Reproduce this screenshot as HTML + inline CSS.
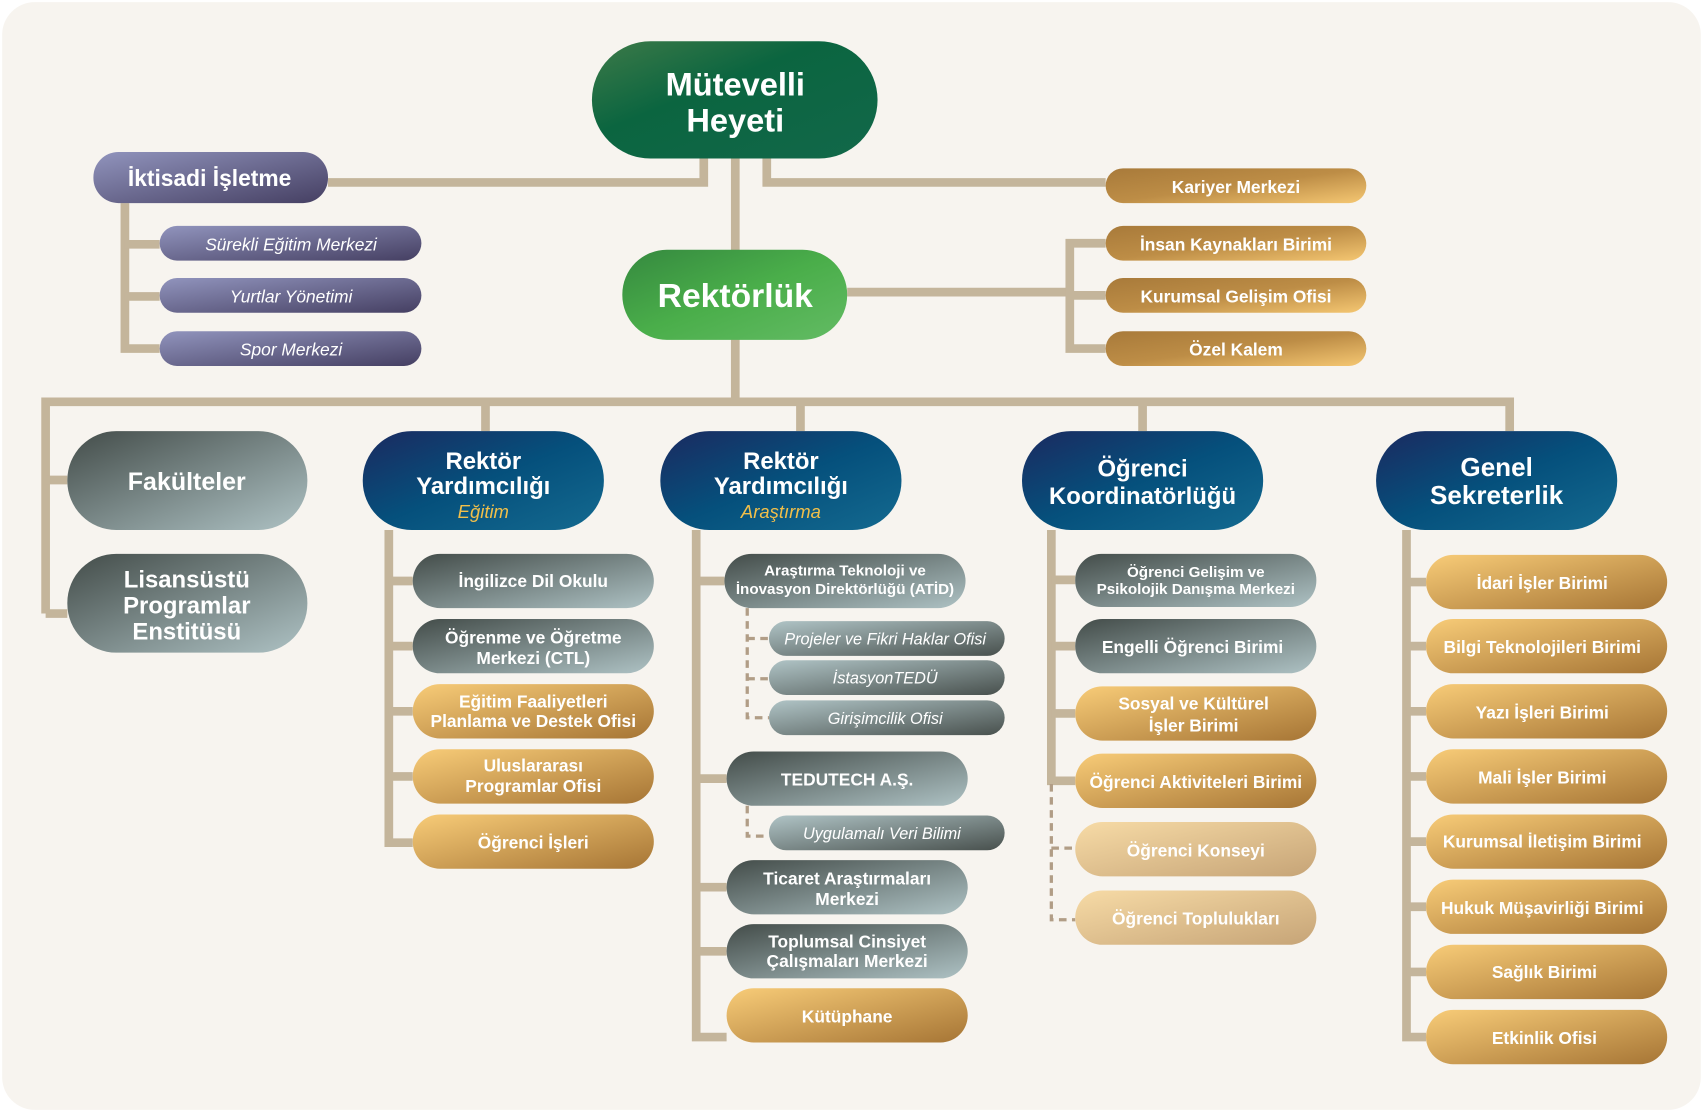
<!DOCTYPE html>
<html><head><meta charset="utf-8"><style>
html,body{margin:0;padding:0;background:#fff;}
svg{display:block}
text{font-family:"Liberation Sans",sans-serif;font-weight:bold;fill:#fff;text-anchor:middle;dominant-baseline:central}
.i{font-style:italic;font-weight:normal}
</style></head><body>
<svg width="1703" height="1112" viewBox="0 0 1568 1024" preserveAspectRatio="none" xmlns="http://www.w3.org/2000/svg">
<defs>
<linearGradient id="gG" x1="0" y1="0" x2="1" y2="1"><stop offset="0" stop-color="#434c49"/><stop offset="1" stop-color="#aec2c4"/></linearGradient>
<linearGradient id="gS" x1="0" y1="0" x2="1" y2="1"><stop offset="0" stop-color="#b0c4c6"/><stop offset="1" stop-color="#48504d"/></linearGradient>
<linearGradient id="gO" x1="0" y1="0" x2="1" y2="1"><stop offset="0" stop-color="#f8cc78"/><stop offset="1" stop-color="#a67535"/></linearGradient>
<linearGradient id="gK" x1="0" y1="0" x2="1" y2="1"><stop offset="0" stop-color="#a87a3a"/><stop offset="0.5" stop-color="#bd8d46"/><stop offset="1" stop-color="#f5c772"/></linearGradient>
<linearGradient id="gF" x1="0" y1="0" x2="1" y2="1"><stop offset="0" stop-color="#f7dba6"/><stop offset="1" stop-color="#c6a477"/></linearGradient>
<linearGradient id="gN" x1="0" y1="0" x2="1" y2="1"><stop offset="0" stop-color="#1b2a60"/><stop offset="0.5" stop-color="#05507c"/><stop offset="1" stop-color="#146a90"/></linearGradient>
<linearGradient id="gP" x1="0" y1="0" x2="1" y2="1"><stop offset="0" stop-color="#9194bd"/><stop offset="1" stop-color="#453f62"/></linearGradient>
<linearGradient id="gM" x1="0" y1="0" x2="1" y2="1"><stop offset="0" stop-color="#3d7a48"/><stop offset="0.4" stop-color="#0b6540"/><stop offset="1" stop-color="#12684a"/></linearGradient>
<linearGradient id="gR" x1="0" y1="0" x2="1" y2="1"><stop offset="0" stop-color="#35893f"/><stop offset="0.5" stop-color="#4aae4a"/><stop offset="1" stop-color="#63bb64"/></linearGradient>
</defs>
<rect x="0" y="0" width="1568" height="1024" fill="#fff"/>
<rect x="2" y="2" width="1564" height="1020" rx="30" fill="#f7f4ef"/>

<g stroke="#c4b59b" stroke-width="8" fill="none">
<polyline points="302,168 648,168 648,146"/>
<polyline points="706,146 706,168 1018,168"/>
<line x1="677" y1="146" x2="677" y2="370"/>
<polyline points="115,187 115,321 147,321"/>
<line x1="115" y1="225" x2="147" y2="225"/>
<line x1="115" y1="273" x2="147" y2="273"/>
<line x1="780" y1="269" x2="985" y2="269"/>
<polyline points="1018,224 985,224 985,321 1018,321"/>
<line x1="985" y1="272" x2="1018" y2="272"/>
<polyline points="42,565 42,370 1390,370 1390,397"/>
<line x1="42" y1="442" x2="62" y2="442"/>
<line x1="42" y1="565" x2="62" y2="565"/>
<line x1="447" y1="370" x2="447" y2="397"/>
<line x1="737" y1="370" x2="737" y2="397"/>
<line x1="1052" y1="370" x2="1052" y2="397"/>
<polyline points="358,488 358,776 380,776"/>
<line x1="358" y1="535" x2="380" y2="535"/><line x1="358" y1="595" x2="380" y2="595"/><line x1="358" y1="655" x2="380" y2="655"/><line x1="358" y1="715" x2="380" y2="715"/>
<polyline points="641,488 641,955 669,955"/>
<line x1="641" y1="535" x2="667" y2="535"/><line x1="641" y1="717" x2="669" y2="717"/><line x1="641" y1="817" x2="669" y2="817"/><line x1="641" y1="876" x2="669" y2="876"/>
<polyline points="968,488 968,719 990,719"/>
<line x1="968" y1="534" x2="990" y2="534"/><line x1="968" y1="595" x2="990" y2="595"/><line x1="968" y1="657" x2="990" y2="657"/>
<polyline points="1295,488 1295,955 1313,955"/>
<line x1="1295" y1="536" x2="1313" y2="536"/><line x1="1295" y1="595" x2="1313" y2="595"/><line x1="1295" y1="655" x2="1313" y2="655"/><line x1="1295" y1="715" x2="1313" y2="715"/><line x1="1295" y1="775" x2="1313" y2="775"/><line x1="1295" y1="835" x2="1313" y2="835"/><line x1="1295" y1="895" x2="1313" y2="895"/>
</g>
<g stroke="#b19d86" stroke-width="3" fill="none" stroke-dasharray="7,5">
<polyline points="688,560 688,661 708,661"/>
<line x1="688" y1="588" x2="708" y2="588"/><line x1="688" y1="625" x2="708" y2="625"/>
<polyline points="688,742 688,770 708,770"/>
<polyline points="968,722 968,847 990,847"/>
<line x1="968" y1="781" x2="990" y2="781"/>
</g>

<!-- top -->
<rect x="545" y="38" width="263" height="108" rx="54" fill="url(#gM)"/>
<text x="677" y="78" font-size="30">Mütevelli</text><text x="677" y="111" font-size="30">Heyeti</text>
<rect x="573" y="230" width="207" height="83" rx="41" fill="url(#gR)"/>
<text x="677" y="273" font-size="31">Rektörlük</text>
<rect x="86" y="140" width="216" height="47" rx="23" fill="url(#gP)"/>
<text x="193" y="164" font-size="21">İktisadi İşletme</text>
<g font-size="16">
<rect x="147" y="208" width="241" height="32" rx="16" fill="url(#gP)"/><text class="i" x="268" y="225">Sürekli Eğitim Merkezi</text>
<rect x="147" y="256" width="241" height="32" rx="16" fill="url(#gP)"/><text class="i" x="268" y="273">Yurtlar Yönetimi</text>
<rect x="147" y="305" width="241" height="32" rx="16" fill="url(#gP)"/><text class="i" x="268" y="322">Spor Merkezi</text>
</g>
<g font-size="16">
<rect x="1018" y="155" width="240" height="32" rx="16" fill="url(#gK)"/><text x="1138" y="172" font-size="16">Kariyer Merkezi</text>
<rect x="1018" y="208" width="240" height="32" rx="16" fill="url(#gK)"/><text x="1138" y="225" font-size="16">İnsan Kaynakları Birimi</text>
<rect x="1018" y="256" width="240" height="32" rx="16" fill="url(#gK)"/><text x="1138" y="273" font-size="16">Kurumsal Gelişim Ofisi</text>
<rect x="1018" y="305" width="240" height="32" rx="16" fill="url(#gK)"/><text x="1138" y="322" font-size="16">Özel Kalem</text>
</g>

<!-- level 2 -->
<rect x="62" y="397" width="221" height="91" rx="45" fill="url(#gG)"/>
<text x="172" y="444" font-size="23">Fakülteler</text>
<rect x="62" y="510" width="221" height="91" rx="45" fill="url(#gG)"/>
<text x="172" y="534" font-size="22">Lisansüstü</text><text x="172" y="558" font-size="22">Programlar</text><text x="172" y="582" font-size="22">Enstitüsü</text>

<rect x="334" y="397" width="222" height="91" rx="45" fill="url(#gN)"/>
<text x="445" y="425" font-size="22">Rektör</text><text x="445" y="448" font-size="22">Yardımcılığı</text><text class="i" x="445" y="471" font-size="17" style="fill:#f1bf4a">Eğitim</text>
<rect x="608" y="397" width="222" height="91" rx="45" fill="url(#gN)"/>
<text x="719" y="425" font-size="22">Rektör</text><text x="719" y="448" font-size="22">Yardımcılığı</text><text class="i" x="719" y="471" font-size="17" style="fill:#f1bf4a">Araştırma</text>
<rect x="941" y="397" width="222" height="91" rx="45" fill="url(#gN)"/>
<text x="1052" y="432" font-size="22">Öğrenci</text><text x="1052" y="457" font-size="22">Koordinatörlüğü</text>
<rect x="1267" y="397" width="222" height="91" rx="45" fill="url(#gN)"/>
<text x="1378" y="430" font-size="24">Genel</text><text x="1378" y="456" font-size="24">Sekreterlik</text>

<!-- Eğitim column -->
<g font-size="16">
<rect x="380" y="510" width="222" height="50" rx="25" fill="url(#gG)"/><text x="491" y="535">İngilizce Dil Okulu</text>
<rect x="380" y="570" width="222" height="50" rx="25" fill="url(#gG)"/><text x="491" y="587">Öğrenme ve Öğretme</text><text x="491" y="606">Merkezi (CTL)</text>
<rect x="380" y="630" width="222" height="50" rx="25" fill="url(#gO)"/><text x="491" y="646">Eğitim Faaliyetleri</text><text x="491" y="664">Planlama ve Destek Ofisi</text>
<rect x="380" y="690" width="222" height="50" rx="25" fill="url(#gO)"/><text x="491" y="705">Uluslararası</text><text x="491" y="724">Programlar Ofisi</text>
<rect x="380" y="750" width="222" height="50" rx="25" fill="url(#gO)"/><text x="491" y="776">Öğrenci İşleri</text>
</g>

<!-- Araştırma column -->
<g font-size="14">
<rect x="667" y="510" width="222" height="50" rx="25" fill="url(#gG)"/><text x="778" y="526">Araştırma Teknoloji ve</text><text x="778" y="543">İnovasyon Direktörlüğü (ATİD)</text>
<rect x="708" y="572" width="217" height="32" rx="16" fill="url(#gS)"/><text class="i" x="815" y="589" font-size="15">Projeler ve Fikri Haklar Ofisi</text>
<rect x="708" y="608" width="217" height="32" rx="16" fill="url(#gS)"/><text class="i" x="815" y="625" font-size="15">İstasyonTEDÜ</text>
<rect x="708" y="645" width="217" height="32" rx="16" fill="url(#gS)"/><text class="i" x="815" y="662" font-size="15">Girişimcilik Ofisi</text>
<rect x="669" y="692" width="222" height="50" rx="25" fill="url(#gG)"/><text x="780" y="718" font-size="16">TEDUTECH A.Ş.</text>
<rect x="708" y="751" width="217" height="32" rx="16" fill="url(#gS)"/><text class="i" x="812" y="768" font-size="15">Uygulamalı Veri Bilimi</text>
<rect x="669" y="792" width="222" height="50" rx="25" fill="url(#gG)"/><text x="780" y="809" font-size="16">Ticaret Araştırmaları</text><text x="780" y="828" font-size="16">Merkezi</text>
<rect x="669" y="851" width="222" height="50" rx="25" fill="url(#gG)"/><text x="780" y="867" font-size="16">Toplumsal Cinsiyet</text><text x="780" y="885" font-size="16">Çalışmaları Merkezi</text>
<rect x="669" y="910" width="222" height="50" rx="25" fill="url(#gO)"/><text x="780" y="936" font-size="16">Kütüphane</text>
</g>

<!-- Öğrenci column -->
<g font-size="16">
<rect x="990" y="510" width="222" height="49" rx="24" fill="url(#gG)"/><text x="1101" y="527" font-size="14">Öğrenci Gelişim ve</text><text x="1101" y="543" font-size="14">Psikolojik Danışma Merkezi</text>
<rect x="990" y="570" width="222" height="50" rx="25" fill="url(#gG)"/><text x="1098" y="596">Engelli Öğrenci Birimi</text>
<rect x="990" y="632" width="222" height="50" rx="25" fill="url(#gO)"/><text x="1099" y="648">Sosyal ve Kültürel</text><text x="1099" y="668">İşler Birimi</text>
<rect x="990" y="694" width="222" height="50" rx="25" fill="url(#gO)"/><text x="1101" y="720">Öğrenci Aktiviteleri Birimi</text>
<rect x="990" y="757" width="222" height="50" rx="25" fill="url(#gF)"/><text x="1101" y="783">Öğrenci Konseyi</text>
<rect x="990" y="820" width="222" height="50" rx="25" fill="url(#gF)"/><text x="1101" y="846">Öğrenci Toplulukları</text>
</g>

<!-- Genel column -->
<g font-size="16">
<rect x="1313" y="511" width="222" height="50" rx="25" fill="url(#gO)"/><text x="1420" y="537">İdari İşler Birimi</text>
<rect x="1313" y="570" width="222" height="50" rx="25" fill="url(#gO)"/><text x="1420" y="596">Bilgi Teknolojileri Birimi</text>
<rect x="1313" y="630" width="222" height="50" rx="25" fill="url(#gO)"/><text x="1420" y="656">Yazı İşleri Birimi</text>
<rect x="1313" y="690" width="222" height="50" rx="25" fill="url(#gO)"/><text x="1420" y="716">Mali İşler Birimi</text>
<rect x="1313" y="750" width="222" height="50" rx="25" fill="url(#gO)"/><text x="1420" y="775">Kurumsal İletişim Birimi</text>
<rect x="1313" y="810" width="222" height="50" rx="25" fill="url(#gO)"/><text x="1420" y="836">Hukuk Müşavirliği Birimi</text>
<rect x="1313" y="870" width="222" height="50" rx="25" fill="url(#gO)"/><text x="1422" y="895">Sağlık Birimi</text>
<rect x="1313" y="930" width="222" height="50" rx="25" fill="url(#gO)"/><text x="1422" y="956">Etkinlik Ofisi</text>
</g>
</svg>
</body></html>
